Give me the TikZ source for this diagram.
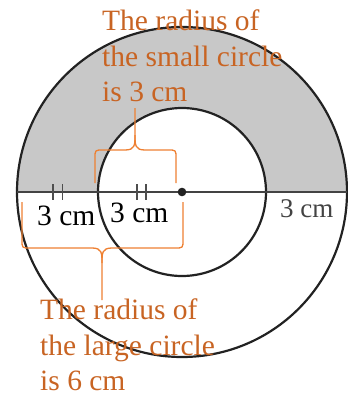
\documentclass[tikz,border=0pt]{standalone}
\usepackage{fontspec}
\setmainfont{Liberation Serif}
\definecolor{lbl}{RGB}{200,100,35}
\definecolor{brc}{RGB}{238,128,50}
\definecolor{shadegray}{RGB}{200,200,200}
\definecolor{ink}{RGB}{34,34,34}
\begin{document}
\begin{tikzpicture}[x=1pt,y=-1pt,
  circ/.style={draw=ink,line width=2.2pt},
  axis/.style={draw=ink!85,line width=2.2pt},
  tickmark/.style={draw=ink!80,line width=1.3pt},
  brace/.style={draw=brc,line width=1.3pt,line join=round},
  lbltext/.style={text=lbl,font=\fontsize{29.5}{35.5}\selectfont,align=left,inner sep=0pt,anchor=north west},
  cmtext/.style={text=black,font=\fontsize{29.5}{34}\selectfont,inner sep=0pt,anchor=base west}]
\useasboundingbox (0,0) rectangle (348,397);
\coordinate (c) at (182,192);
% shaded upper half of the ring
\fill[shadegray] (c) ++(-165,0) arc[start angle=180,end angle=360,radius=165]
  -- ++(-81,0) arc[start angle=0,end angle=-180,radius=84] -- cycle;
% circles
\draw[circ] (c) circle[radius=165];
\draw[circ] (c) circle[radius=84];
% diameter
\coordinate (L) at (17,192);
\coordinate (R) at (347,192);
\draw[axis] (L) -- (R);
% tick marks
\draw[tickmark] (53,184) -- (53,200);
\draw[tickmark] (62.5,184) -- (62.5,200);
\draw[tickmark] (137,184) -- (137,200);
\draw[tickmark] (146,184) -- (146,200);
% centre dot
\fill[ink] (c) circle[radius=4.3];
% top brace
\draw[brace] (95,183) -- (95,158) .. controls (95,150) .. (103,150) -- (125,150)
  .. controls (135,150) and (135,145) .. (135,135) -- (135,108);
\draw[brace] (135,135) .. controls (135,145) and (135,150) .. (145,150) -- (168,150)
  .. controls (176,150) .. (176,158) -- (176,183);
% bottom brace
\draw[brace] (22,202) -- (22,240) .. controls (22,248) .. (30,248) -- (92,248)
  .. controls (102,248) and (102,253) .. (102,263) -- (102,300);
\draw[brace] (102,263) .. controls (102,253) and (102,248) .. (112,248) -- (175,248)
  .. controls (183,248) .. (183,240) -- (183,202);
% labels
\node[cmtext] (m1) at (37,225) {3 cm};
\node[cmtext] (m2) at (110,222) {3 cm};
\node[cmtext,text=ink!85,font=\fontsize{27}{32}\selectfont] (m3) at (280,217) {3 cm};
\node[lbltext] (small) at (102,10) {The radius of\\the small circle\\is 3 cm};
\node[lbltext] (large) at (40,299) {The radius of\\the large circle\\is 6 cm};
\end{tikzpicture}
\end{document}
